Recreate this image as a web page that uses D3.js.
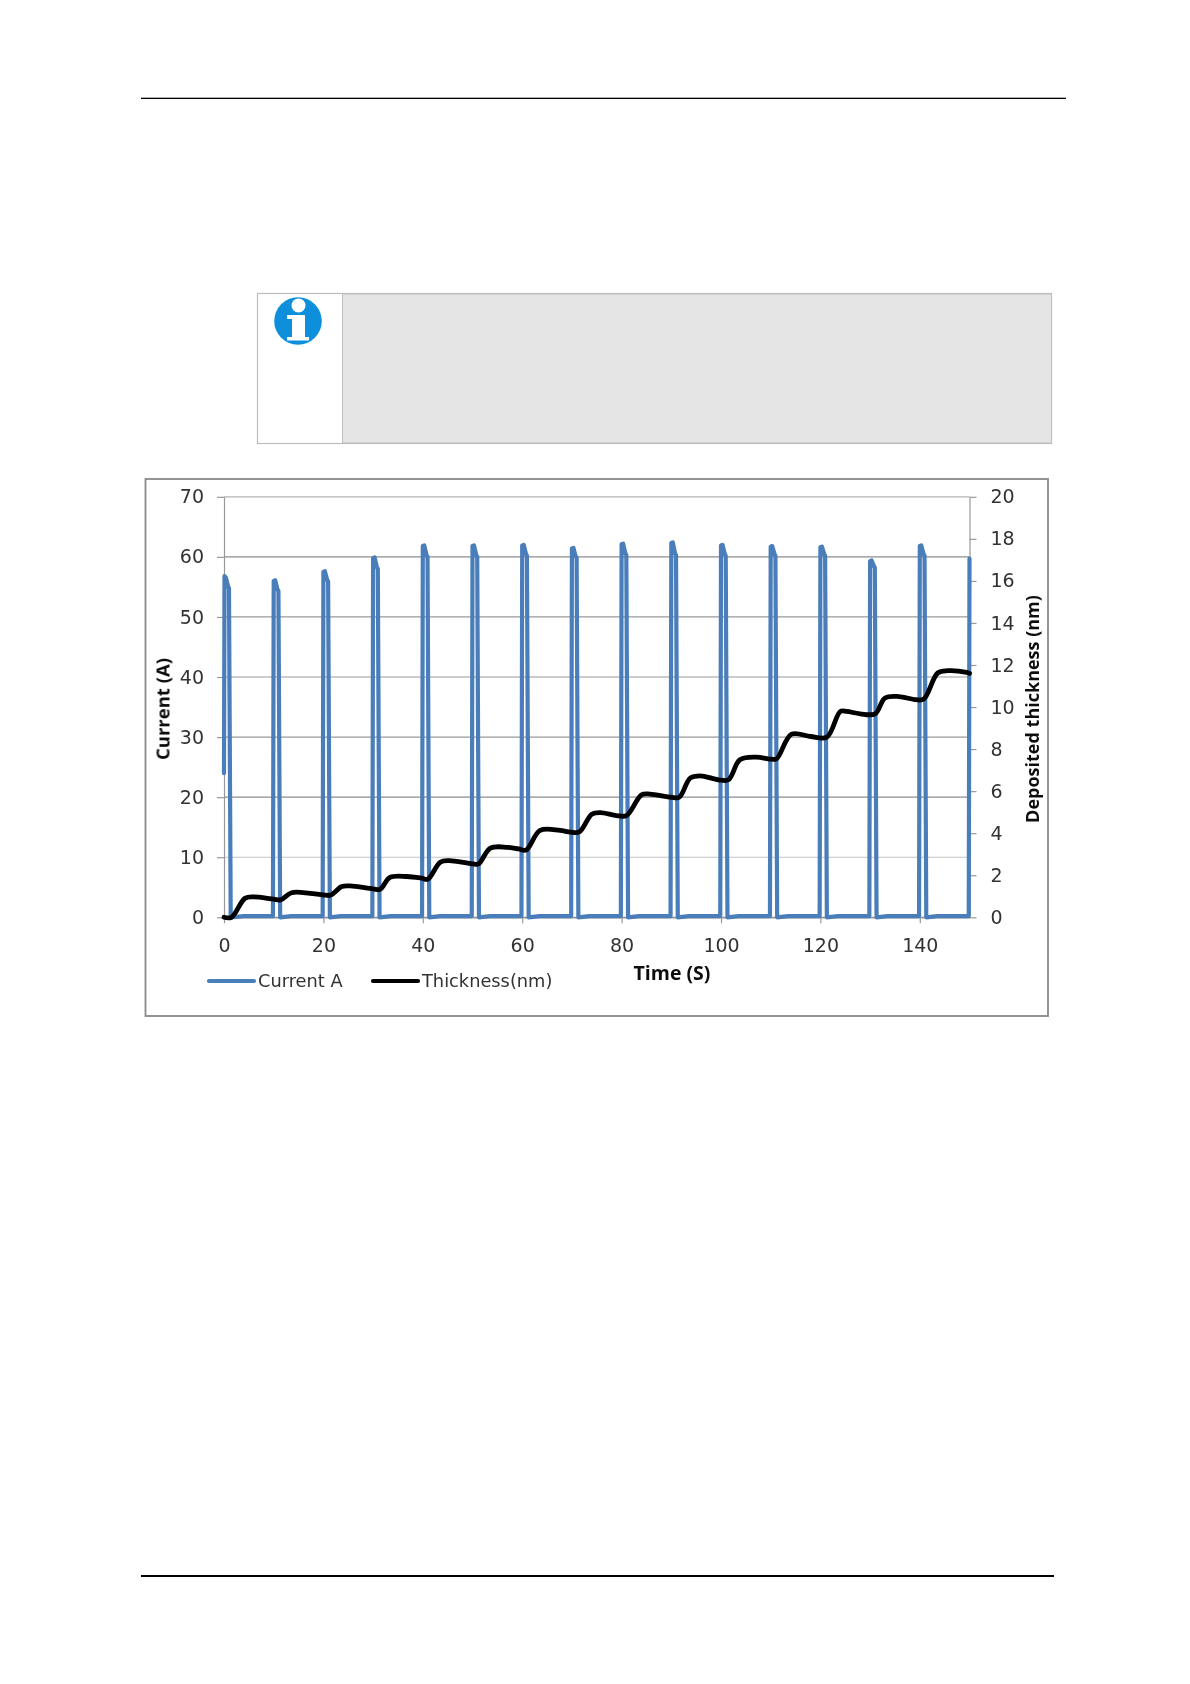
<!DOCTYPE html>
<html><head><meta charset="utf-8">
<script src="https://cdnjs.cloudflare.com/ajax/libs/d3/7.8.5/d3.min.js"></script>
<style>
html,body{margin:0;padding:0;background:#fff}
svg{display:block}
.tick text{font-family:"DejaVu Sans",sans-serif;font-size:19px;fill:#333}
.title{font-family:"Open Sans",sans-serif;font-weight:700;fill:#111}
.leg{font-family:"DejaVu Sans",sans-serif;font-size:17.8px;fill:#333}
</style></head><body>
<svg id="c" width="1190" height="1684"></svg>
<script>
const xTicks=[0,20,40,60,80,100,120,140];
const leftTicks=[0,10,20,30,40,50,60,70];
const rightTicks=[0,2,4,6,8,10,12,14,16,18,20];
const gridShade=["#888","#c4c4c4","#8c8c8c","#9a9a9a","#9a9a9a","#9a9a9a","#8c8c8c","#b4b4b4"];

const currentTime=[0,0.1,0.4,0.85,1,1.35,4,9.85,
 10,10.3,10.75,10.95,11.3,13.5,19.85,
 20,20.3,20.75,20.95,21.3,23.5,29.85,
 30,30.3,30.75,30.95,31.3,33.5,39.85,
 40,40.3,40.75,40.95,41.3,43.5,49.85,
 50,50.3,50.75,50.95,51.3,53.5,59.85,
 60,60.3,60.75,60.95,61.3,63.5,69.85,
 70,70.3,70.75,70.95,71.3,73.5,79.85,
 80,80.3,80.75,80.95,81.3,83.5,89.85,
 90,90.3,90.75,90.95,91.3,93.5,99.85,
 100,100.3,100.75,100.95,101.3,103.5,109.85,
 110,110.3,110.75,110.95,111.3,113.5,119.85,
 120,120.3,120.75,120.95,121.3,123.5,129.85,
 130,130.3,130.75,130.95,131.3,133.5,139.85,
 140,140.3,140.75,140.95,141.3,143.5,149.85,
 150];
const currentValues=[24,56.8,56.5,55,54.8,0,0.2,0.2,
 56,56.1,54.6,54.3,0,0.2,0.2,
 57.5,57.6,56.2,55.9,0,0.2,0.2,
 59.8,59.9,58.3,58,0,0.2,0.2,
 61.8,61.9,60.3,60,0,0.2,0.2,
 61.8,61.9,60.3,60,0,0.2,0.2,
 61.9,62,60.5,60.2,0,0.2,0.2,
 61.4,61.5,60.1,59.9,0,0.2,0.2,
 62.1,62.2,60.6,60.3,0,0.2,0.2,
 62.3,62.4,60.6,60.3,0,0.2,0.2,
 61.9,62,60.5,60.2,0,0.2,0.2,
 61.7,61.8,60.5,60.2,0,0.2,0.2,
 61.6,61.7,60.5,60.2,0,0.2,0.2,
 59.3,59.4,58.5,58.2,0,0.2,0.2,
 61.8,61.9,60.5,60.2,0,0.2,0.2,
 59.7];

const thickTime=[0,1.5,4.2,5.9,10,11.4,13.6,17.3,20,21.5,23.7,25.4,30,31.4,33.4,36.8,39.8,41,43.5,45.2,50,51.2,53.6,57,59.3,60.8,63.6,67.6,69.7,71.5,74,75.7,79,81,84,85.7,90,91.6,93.8,95.8,99.5,101.5,103.8,107,110.2,111.2,114.2,118,121.3,124,125.3,128,131,133,135.8,139.2,140.8,143.6,145.6,149.4,150];
const thickValues=[0,0,0.9,0.97,0.86,0.83,1.17,1.14,1.06,1.06,1.46,1.49,1.35,1.33,1.9,1.94,1.86,1.81,2.62,2.7,2.54,2.54,3.29,3.33,3.25,3.2,4.13,4.13,4.05,4.06,4.9,4.98,4.84,4.84,5.82,5.86,5.71,5.71,6.62,6.73,6.54,6.54,7.49,7.62,7.52,7.54,8.71,8.6,8.57,9.79,9.79,9.68,9.68,10.43,10.5,10.35,10.38,11.62,11.73,11.65,11.6];

const seriesNames=["Current A","Thickness(nm)"];
const seriesColors=["#4a7ebb","#000"];

const root=d3.select("#c");
root.append("defs").append("filter").attr("id","soft").attr("x","-2%").attr("y","-2%").attr("width","104%").attr("height","104%")
 .append("feGaussianBlur").attr("stdDeviation",0.45);
const x=d3.scaleLinear().domain([0,150]).range([224,969.5]);
const yL=d3.scaleLinear().domain([0,70]).range([917.3,496.8]);
const yR=d3.scaleLinear().domain([0,20]).range([917.3,496.8]);

/* page furniture */
root.append("rect").attr("x",141).attr("y",97.7).attr("width",925).attr("height",1.3).attr("fill","#000");
root.append("rect").attr("x",141).attr("y",1575).attr("width",913).attr("height",2).attr("fill","#000");
root.append("rect").attr("x",257.5).attr("y",293.5).attr("width",794).attr("height",150).attr("fill","#fff").attr("stroke","#bdbdbd").attr("stroke-width",1.2);
root.append("rect").attr("x",342.5).attr("y",294).attr("width",709).attr("height",149).attr("fill","#e5e5e5").attr("stroke","#bdbdbd").attr("stroke-width",1);
const ic=root.append("g").attr("filter","url(#soft)");
ic.append("circle").attr("cx",298).attr("cy",321).attr("r",23.8).attr("fill","#0b8fdc");
ic.append("circle").attr("cx",298.5).attr("cy",305.5).attr("r",7).attr("fill","#fff");
ic.append("path").attr("fill","#fff").attr("d","M287 315H305V337H309V340.5H287V337H292V319H287Z");

/* chart frame */
root.append("rect").attr("x",145.5).attr("y",479).attr("width",902.5).attr("height",537).attr("fill","#fff").attr("stroke","#888").attr("stroke-width",1.8);

const svg=root.append("g").attr("filter","url(#soft)");

/* gridlines */
svg.append("g").selectAll("line").data(leftTicks).join("line")
 .attr("x1",x(0)).attr("x2",x(150)).attr("y1",d=>yL(d)).attr("y2",d=>yL(d))
 .attr("stroke",(d,i)=>gridShade[i]).attr("stroke-width",1.2);

/* axes */
function styleAxis(g){g.selectAll(".domain,.tick line").attr("stroke","#999").attr("stroke-width",1.2);}
svg.append("g").attr("transform","translate(224,0)")
 .call(d3.axisLeft(yL).tickValues(leftTicks).tickSize(7).tickPadding(13).tickSizeOuter(0)).call(styleAxis);
svg.append("g").attr("transform","translate(969.5,0)")
 .call(d3.axisRight(yR).tickValues(rightTicks).tickSize(7).tickPadding(14).tickSizeOuter(0)).call(styleAxis);
svg.append("g").attr("transform","translate(0,917.3)")
 .call(d3.axisBottom(x).tickValues(xTicks).tickSize(6).tickPadding(15).tickSizeOuter(0)).call(styleAxis);
svg.selectAll(".tick text").attr("stroke","none");

/* series */
const lineL=d3.line().x(d=>x(d[0])).y(d=>yL(d[1]));
const lineR=d3.line().x(d=>x(d[0])).y(d=>yR(d[1])).curve(d3.curveCatmullRom.alpha(0.5));
svg.append("path").datum(d3.zip(currentTime,currentValues)).attr("d",lineL)
 .attr("fill","none").attr("stroke",seriesColors[0]).attr("stroke-width",4.2).attr("stroke-linejoin","round").attr("stroke-linecap","round");
svg.append("path").datum(d3.zip(thickTime,thickValues)).attr("d",lineR)
 .attr("fill","none").attr("stroke",seriesColors[1]).attr("stroke-width",4.8).attr("stroke-linejoin","round").attr("stroke-linecap","round");

/* titles */
svg.append("text").attr("class","title").attr("font-size",18.5).attr("text-anchor","middle").attr("transform","translate(169.5,709) rotate(-90)").text("Current (A)");
svg.append("text").attr("class","title").attr("font-size",18).attr("text-anchor","middle").attr("transform","translate(1039,709) rotate(-90)").text("Deposited thickness (nm)");
svg.append("text").attr("class","title").attr("font-size",19.5).attr("text-anchor","middle").attr("x",672).attr("y",980).text("Time (S)");

/* legend */
const legX=[209,373];
seriesNames.forEach((n,i)=>{
 svg.append("line").attr("x1",legX[i]).attr("x2",legX[i]+45).attr("y1",981).attr("y2",981)
  .attr("stroke",seriesColors[i]).attr("stroke-width",4.2).attr("stroke-linecap","round");
 svg.append("text").attr("class","leg").attr("x",legX[i]+49).attr("y",987).text(n);
});
</script></body></html>
